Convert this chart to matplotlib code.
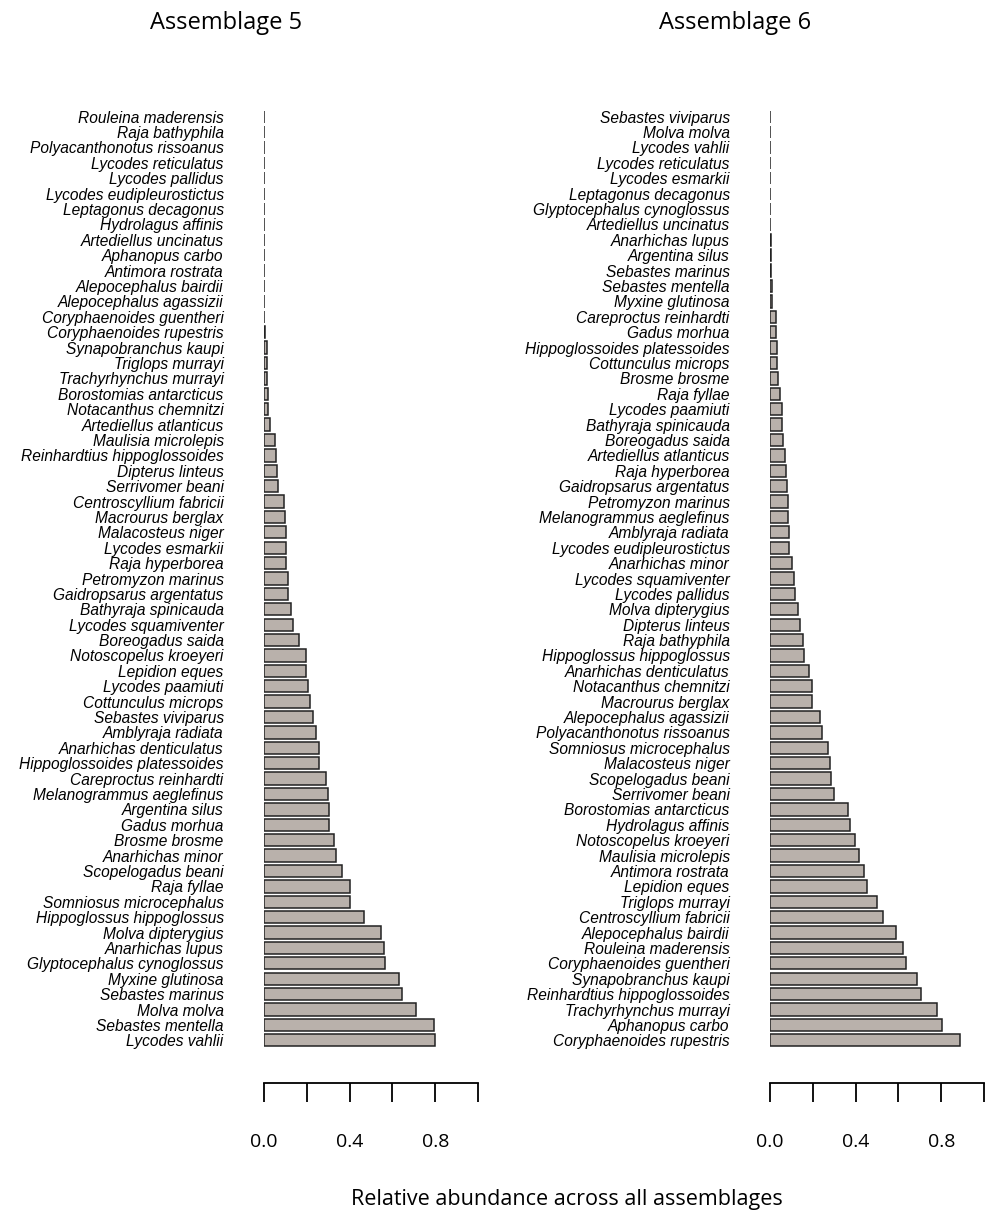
import matplotlib
matplotlib.use("Agg")
import matplotlib.pyplot as plt

species5 = ["Rouleina maderensis", "Raja bathyphila", "Polyacanthonotus rissoanus",
            "Lycodes reticulatus", "Lycodes pallidus", "Lycodes eudipleurostictus",
            "Leptagonus decagonus", "Hydrolagus affinis", "Artediellus uncinatus",
            "Aphanopus carbo", "Antimora rostrata", "Alepocephalus bairdii",
            "Alepocephalus agassizii", "Coryphaenoides guentheri", "Coryphaenoides rupestris",
            "Synapobranchus kaupi", "Triglops murrayi", "Trachyrhynchus murrayi",
            "Borostomias antarcticus", "Notacanthus chemnitzi", "Artediellus atlanticus",
            "Maulisia microlepis", "Reinhardtius hippoglossoides", "Dipterus linteus",
            "Serrivomer beani", "Centroscyllium fabricii", "Macrourus berglax",
            "Malacosteus niger", "Lycodes esmarkii", "Raja hyperborea", "Petromyzon marinus",
            "Gaidropsarus argentatus", "Bathyraja spinicauda", "Lycodes squamiventer",
            "Boreogadus saida", "Notoscopelus kroeyeri", "Lepidion eques", "Lycodes paamiuti",
            "Cottunculus microps", "Sebastes viviparus", "Amblyraja radiata",
            "Anarhichas denticulatus", "Hippoglossoides platessoides", "Careproctus reinhardti",
            "Melanogrammus aeglefinus", "Argentina silus", "Gadus morhua", "Brosme brosme",
            "Anarhichas minor", "Scopelogadus beani", "Raja fyllae", "Somniosus microcephalus",
            "Hippoglossus hippoglossus", "Molva dipterygius", "Anarhichas lupus",
            "Glyptocephalus cynoglossus", "Myxine glutinosa", "Sebastes marinus",
            "Molva molva", "Sebastes mentella", "Lycodes vahlii"]
values5 = [0.002] * 14 + [0.005, 0.015, 0.012, 0.015, 0.018, 0.02, 0.03, 0.05, 0.055,
           0.06, 0.065, 0.095, 0.1, 0.105, 0.105, 0.105, 0.11, 0.11, 0.125, 0.135, 0.165,
           0.195, 0.195, 0.205, 0.215, 0.23, 0.245, 0.255, 0.255, 0.29, 0.3, 0.305, 0.305,
           0.325, 0.335, 0.365, 0.4, 0.4, 0.465, 0.545, 0.56, 0.565, 0.63, 0.645, 0.71,
           0.795, 0.8]

species6 = ["Sebastes viviparus", "Molva molva", "Lycodes vahlii", "Lycodes reticulatus",
            "Lycodes esmarkii", "Leptagonus decagonus", "Glyptocephalus cynoglossus",
            "Artediellus uncinatus", "Anarhichas lupus", "Argentina silus", "Sebastes marinus",
            "Sebastes mentella", "Myxine glutinosa", "Careproctus reinhardti", "Gadus morhua",
            "Hippoglossoides platessoides", "Cottunculus microps", "Brosme brosme",
            "Raja fyllae", "Lycodes paamiuti", "Bathyraja spinicauda", "Boreogadus saida",
            "Artediellus atlanticus", "Raja hyperborea", "Gaidropsarus argentatus",
            "Petromyzon marinus", "Melanogrammus aeglefinus", "Amblyraja radiata",
            "Lycodes eudipleurostictus", "Anarhichas minor", "Lycodes squamiventer",
            "Lycodes pallidus", "Molva dipterygius", "Dipterus linteus", "Raja bathyphila",
            "Hippoglossus hippoglossus", "Anarhichas denticulatus", "Notacanthus chemnitzi",
            "Macrourus berglax", "Alepocephalus agassizii", "Polyacanthonotus rissoanus",
            "Somniosus microcephalus", "Malacosteus niger", "Scopelogadus beani",
            "Serrivomer beani", "Borostomias antarcticus", "Hydrolagus affinis",
            "Notoscopelus kroeyeri", "Maulisia microlepis", "Antimora rostrata",
            "Lepidion eques", "Triglops murrayi", "Centroscyllium fabricii",
            "Alepocephalus bairdii", "Rouleina maderensis", "Coryphaenoides guentheri",
            "Synapobranchus kaupi", "Reinhardtius hippoglossoides", "Trachyrhynchus murrayi",
            "Aphanopus carbo", "Coryphaenoides rupestris"]
values6 = [0.002] * 8 + [0.003, 0.004, 0.006, 0.008, 0.01, 0.028, 0.03, 0.032, 0.034,
           0.038, 0.045, 0.055, 0.057, 0.06, 0.07, 0.075, 0.08, 0.085, 0.085, 0.09, 0.09,
           0.105, 0.11, 0.118, 0.13, 0.14, 0.155, 0.158, 0.18, 0.195, 0.195, 0.232, 0.245,
           0.27, 0.28, 0.285, 0.3, 0.365, 0.375, 0.395, 0.415, 0.44, 0.455, 0.5, 0.53,
           0.59, 0.62, 0.635, 0.685, 0.705, 0.78, 0.805, 0.89]

titles = ["Assemblage 5", "Assemblage 6"]
ticks = [0.0, 0.2, 0.4, 0.6, 0.8, 1.0]
tick_labels = ["0.0", "", "0.4", "", "0.8", ""]

W, H = 986, 1214
fig = plt.figure(figsize=(W / 100, H / 100), dpi=100)
plt.rcParams["font.family"] = ["Open Sans", "DejaVu Sans"]

panels = [(264, species5, values5, 226), (770, species6, values6, 735)]
for (x0, names, vals, tx), title in zip(panels, titles):
    ax = fig.add_axes([x0 / W, 1 - 1048 / H, 214 / W, 939 / H])
    y = list(range(len(names)))
    ax.barh(y, vals, height=0.8, color="#b9b1ab", edgecolor="#222222", linewidth=1.1)
    ax.set_ylim(len(names) - 0.5, -0.5)
    ax.set_xlim(0, 1)
    ax.set_yticks(y)
    ax.set_yticklabels(names, fontsize=11.2, style="italic", family=["Liberation Sans", "DejaVu Sans"])
    ax.tick_params(axis="y", length=0, pad=29)
    for s in ["top", "right", "left"]:
        ax.spines[s].set_visible(False)
    ax.spines["bottom"].set_position(("outward", 25))
    ax.spines["bottom"].set_bounds(0, 1)
    ax.spines["bottom"].set_linewidth(1.3)
    ax.set_xticks(ticks)
    ax.set_xticklabels(tick_labels, fontsize=14)
    ax.tick_params(axis="x", length=14, width=1.3, pad=22)
    fig.text(tx / W, 1 - 23 / H, title, ha="center", va="center", fontsize=17)

fig.text(567 / W, 1 - 1200 / H, "Relative abundance across all assemblages",
         ha="center", va="center", fontsize=15.5)
fig.savefig("out.png", dpi=100)
